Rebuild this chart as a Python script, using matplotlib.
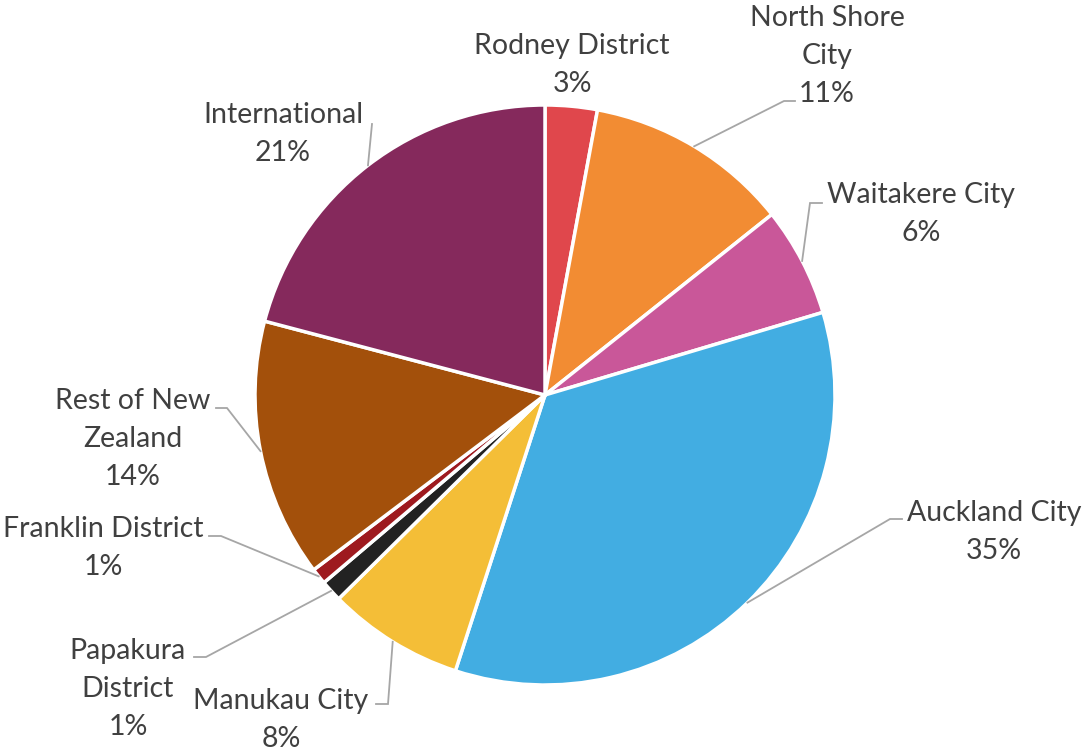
import matplotlib
matplotlib.use("Agg")
import matplotlib.pyplot as plt
import numpy as np

# ---- data ----
categories = ["Rodney District", "North Shore City", "Waitakere City", "Auckland City",
              "Manukau City", "Papakura District", "Franklin District",
              "Rest of New Zealand", "International"]
values = [2.9, 11.4, 6.1, 34.6, 7.6, 1.2, 0.9, 14.4, 20.9]
label_text = ["Rodney District", "North Shore\nCity", "Waitakere City", "Auckland City",
              "Manukau City", "Papakura\nDistrict", "Franklin District",
              "Rest of New\nZealand", "International"]
colors = ["#E0474C", "#F28C33", "#C95799", "#42ADE2", "#F4BE37",
          "#222222", "#9E1A1F", "#A3500B", "#85295C"]

# ---- layout (pixel coords, y measured from top) ----
W, H = 1086, 752
CX, CY, R = 545, 395, 290
label_pos = [(572, 65), (827, 56), (921, 214), (994, 532), (281, 720),
             (128, 689), (103, 548), (133, 439), (283, 134)]
# leader: (elbow x, elbow y, end x) or None
leaders = [None, (784, 101, 795), (810, 203, 822), (890, 519, 902), (388, 704, 376),
           (206, 657, 194), (221, 536, 209), (227, 408, 216), (372, 124, 372)]

plt.rcParams['font.family'] = ['Lato', 'DejaVu Sans']
fig = plt.figure(figsize=(W / 100, H / 100), dpi=100)
ax = fig.add_axes([0, 0, 1, 1])

wedges, _ = ax.pie(values, colors=colors, startangle=90, counterclock=False,
                   center=(CX, H - CY), radius=R, frame=True,
                   wedgeprops=dict(edgecolor='white', linewidth=2.5))
ax.set_xlim(0, W)
ax.set_ylim(0, H)
ax.set_aspect('equal')
ax.axis('off')

total = sum(values)
cum = 0.0
for i, v in enumerate(values):
    mid = (cum + v / 2) / total * 2 * np.pi
    cum += v
    pct = f"{round(v / total * 100):.0f}%"
    lx, ly = label_pos[i]
    ax.text(lx, H - ly, f"{label_text[i]}\n{pct}", ha='center', va='center',
            fontsize=20.5, color='#404040', linespacing=1.58, multialignment='center')
    if leaders[i] is not None:
        sx = CX + R * np.sin(mid)
        sy = (H - CY) + R * np.cos(mid)
        ex, ey, endx = leaders[i]
        ax.plot([sx, ex, endx], [sy, H - ey, H - ey], color='#A6A6A6', lw=1.3,
                solid_joinstyle='miter')

fig.savefig("out.png", dpi=100, facecolor='white')
